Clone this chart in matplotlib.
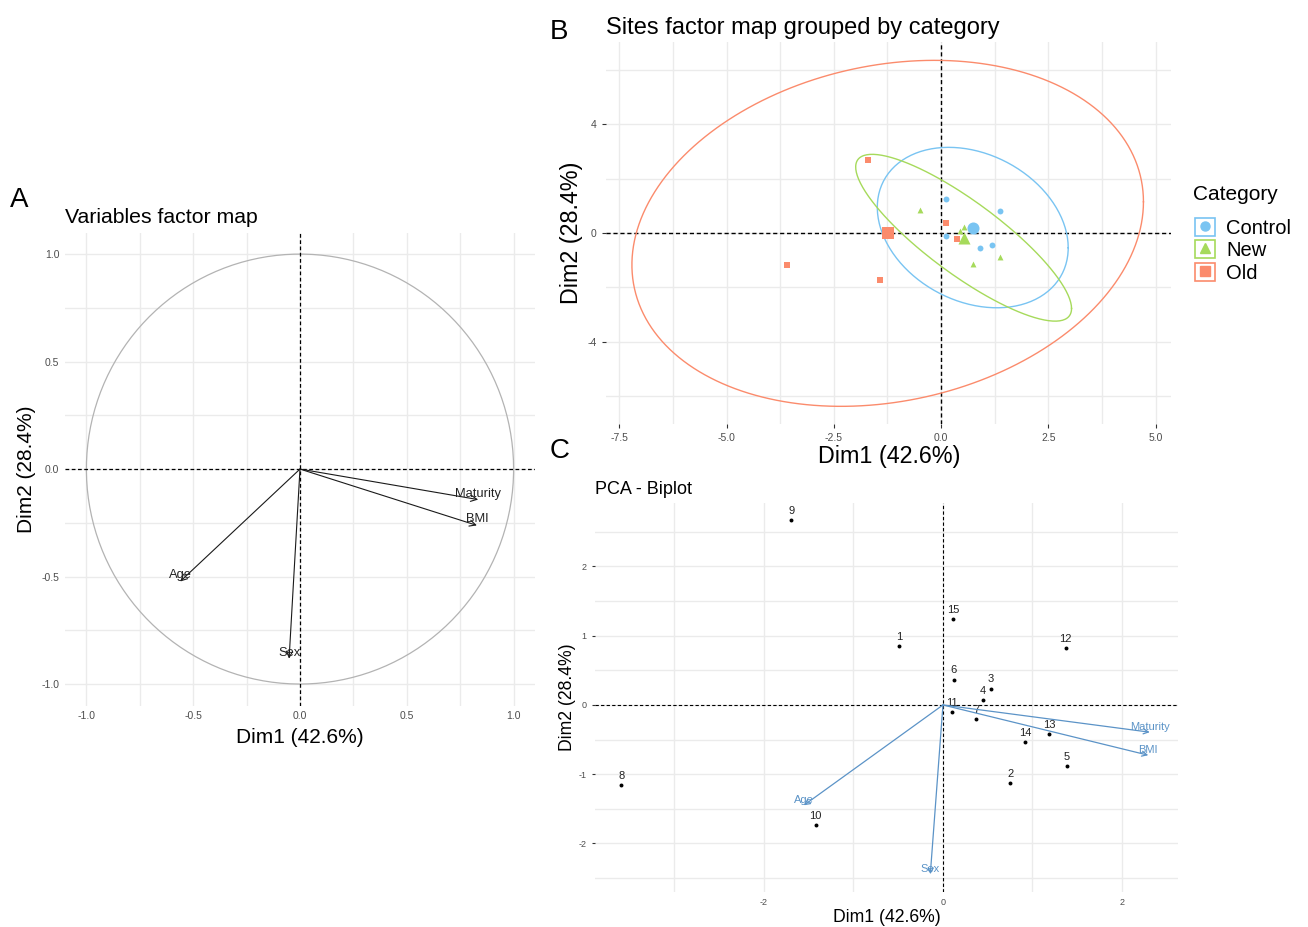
import numpy as np
import matplotlib
matplotlib.use("Agg")
import matplotlib.pyplot as plt
from matplotlib.lines import Line2D
from matplotlib.patches import Rectangle

plt.rcParams['font.family'] = ['Liberation Sans', 'DejaVu Sans']
plt.rcParams['axes.unicode_minus'] = False

# variable coordinates (correlation circle)
variables = ['Maturity', 'BMI', 'Age', 'Sex']
var_dim1 = [0.834, 0.828, -0.561, -0.051]
var_dim2 = [-0.142, -0.262, -0.523, -0.882]

# individual scores
site_ids = [1, 2, 3, 4, 5, 6, 7, 8, 9, 10, 11, 12, 13, 14, 15]
site_dim1 = [-0.487, 0.752, 0.538, 0.442, 1.385, 0.118, 0.374, -3.595,
             -1.695, -1.421, 0.105, 1.371, 1.189, 0.916, 0.114]
site_dim2 = [0.848, -1.133, 0.236, 0.067, -0.887, 0.366, -0.207, -1.157,
             2.665, -1.730, -0.101, 0.824, -0.424, -0.540, 1.239]
site_group = ['New', 'New', 'New', 'New', 'New', 'Old', 'Old', 'Old',
              'Old', 'Old', 'Control', 'Control', 'Control', 'Control', 'Control']

groups = ['Control', 'New', 'Old']
group_colors = ['#79C4F2', '#A6DA5B', '#FB8B6C']
group_markers = ['o', '^', 's']

biplot_scale = 2.77

GRID = '#EBEBEB'
TICK = '#4D4D4D'

fig = plt.figure(figsize=(13.08, 9.27), dpi=100)


def minimal(ax, xmaj, xmin, ymaj, ymin, ticksize):
    for s in ax.spines.values():
        s.set_visible(False)
    ax.set_xticks(xmaj)
    ax.set_xticks(xmin, minor=True)
    ax.set_yticks(ymaj)
    ax.set_yticks(ymin, minor=True)
    ax.grid(True, which='both', color=GRID, lw=1.0)
    ax.set_axisbelow(True)
    ax.tick_params(which='both', length=0, labelsize=ticksize, labelcolor=TICK, pad=4)


def ellipse(x, y, level=0.95, n=200):
    x = np.asarray(x)
    y = np.asarray(y)
    pts = np.column_stack([x, y])
    centre = pts.mean(axis=0)
    cov = np.cov(pts, rowvar=False)
    dfd = len(x) - 1
    fq = dfd / 2 * ((1 - level) ** (-2 / dfd) - 1)
    radius = np.sqrt(2 * fq)
    t = np.linspace(0, 2 * np.pi, n)
    circle = np.column_stack([np.cos(t), np.sin(t)])
    L = np.linalg.cholesky(cov)
    e = centre + radius * circle @ L.T
    return e[:, 0], e[:, 1]


# ---- A: variables factor map
axA = fig.add_axes([0.0497, 0.2389, 0.3593, 0.5102])
minimal(axA, [-1, -0.5, 0, 0.5, 1], [-0.75, -0.25, 0.25, 0.75],
        [-1, -0.5, 0, 0.5, 1], [-0.75, -0.25, 0.25, 0.75], 7.5)
axA.set_xticklabels(['-1.0', '-0.5', '0.0', '0.5', '1.0'])
axA.set_yticklabels(['-1.0', '-0.5', '0.0', '0.5', '1.0'])
axA.set_xlim(-1.1, 1.1)
axA.set_ylim(-1.1, 1.1)
t = np.linspace(0, 2 * np.pi, 300)
axA.plot(np.cos(t), np.sin(t), color='#B3B3B3', lw=0.9)
axA.axhline(0, color='black', ls='--', lw=0.9, dashes=(3, 2))
axA.axvline(0, color='black', ls='--', lw=0.9, dashes=(3, 2))
for name, vx, vy in zip(variables, var_dim1, var_dim2):
    axA.annotate('', xy=(vx, vy), xytext=(0, 0),
                 arrowprops=dict(arrowstyle='->', color='#1A1A1A', lw=0.8,
                                 shrinkA=0, shrinkB=0, mutation_scale=11))
    axA.text(vx, vy, name, ha='center', va='bottom', fontsize=9.3, color='#222222')
axA.set_title('Variables factor map', loc='left', fontsize=15.3, pad=7)
axA.set_xlabel('Dim1 (42.6%)', fontsize=15, labelpad=5)
axA.set_ylabel('Dim2 (28.4%)', fontsize=15, labelpad=4)

# ---- B: individuals grouped by category
axB = fig.add_axes([0.4636, 0.5429, 0.432, 0.4115])
minimal(axB, [-7.5, -5, -2.5, 0, 2.5, 5], [-6.25, -3.75, -1.25, 1.25, 3.75],
        [-4, 0, 4], [-6, -2, 2, 6], 7.5)
axB.set_xticklabels(['-7.5', '-5.0', '-2.5', '0.0', '2.5', '5.0'])
axB.tick_params(which='major', length=3, color='#333333')
axB.set_xlim(-7.8, 5.37)
axB.set_ylim(-7.0, 7.0)
axB.axhline(0, color='black', ls='--', lw=1.0, dashes=(3, 2), zorder=1)
axB.axvline(0, color='black', ls='--', lw=1.0, dashes=(3, 2), zorder=1)
handles = []
for g, c, m in zip(groups, group_colors, group_markers):
    gx = [x for x, k in zip(site_dim1, site_group) if k == g]
    gy = [y for y, k in zip(site_dim2, site_group) if k == g]
    ex, ey = ellipse(gx, gy)
    axB.plot(ex, ey, color=c, lw=1.0, zorder=2)
    axB.scatter(gx, gy, marker=m, s=18, color=c, lw=0, zorder=3)
    axB.scatter([np.mean(gx)], [np.mean(gy)], marker=m, s=75, color=c, lw=0, zorder=3)
    box = Rectangle((0, 0), 1, 1, facecolor='white', edgecolor=c, lw=1.2)
    mk = Line2D([], [], marker=m, color=c, ls='', markersize=6.5)
    handles.append((box, mk))
axB.set_title('Sites factor map grouped by category', loc='left', fontsize=17, pad=6)
axB.set_xlabel('Dim1 (42.6%)', fontsize=16.8, labelpad=1)
axB.set_ylabel('Dim2 (28.4%)', fontsize=16.8, labelpad=3)
fig.text(1193 / 1308, 1 - 195 / 927, 'Category', fontsize=15, va='center')
fig.legend(handles, groups, loc='upper left',
           bbox_to_anchor=(1195 / 1308, 1 - 218 / 927), frameon=False,
           fontsize=14.5, handlelength=1.0, handleheight=1.0,
           handletextpad=0.55, labelspacing=0.12, borderaxespad=0,
           borderpad=0)

# ---- C: biplot
axC = fig.add_axes([0.4547, 0.0378, 0.4462, 0.4199])
minimal(axC, [-2, 0, 2], [-3, -1, 1], [-2, -1, 0, 1, 2],
        [-2.5, -1.5, -0.5, 0.5, 1.5, 2.5], 6.5)
axC.tick_params(axis='y', which='major', length=2, color='#333333')
axC.set_xlim(-3.89, 2.63)
axC.set_ylim(-2.70, 2.92)
axC.axhline(0, color='black', ls='--', lw=0.8, dashes=(3, 2), zorder=1)
axC.axvline(0, color='black', ls='--', lw=0.8, dashes=(3, 2), zorder=1)
axC.scatter(site_dim1, site_dim2, s=8, color='black', lw=0, zorder=3)
for sid, x, y in zip(site_ids, site_dim1, site_dim2):
    axC.annotate(str(sid), (x, y), xytext=(0, 3), textcoords='offset points',
                 ha='center', va='bottom', fontsize=8, color='#222222')
for name, vx, vy in zip(variables, var_dim1, var_dim2):
    tx, ty = vx * biplot_scale, vy * biplot_scale
    axC.annotate('', xy=(tx, ty), xytext=(0, 0),
                 arrowprops=dict(arrowstyle='->', color='#5B93C7', lw=0.9,
                                 shrinkA=0, shrinkB=0, mutation_scale=9))
    axC.text(tx, ty, name, ha='center', va='bottom', fontsize=8, color='#5B93C7')
axC.set_title('PCA - Biplot', loc='left', fontsize=13, pad=6)
axC.set_xlabel('Dim1 (42.6%)', fontsize=12.7, labelpad=2)
axC.set_ylabel('Dim2 (28.4%)', fontsize=12.7, labelpad=2)

# panel letters
fig.text(10 / 1308, 1 - 200 / 927, 'A', fontsize=20, va='center')
fig.text(550 / 1308, 1 - 32 / 927, 'B', fontsize=20, va='center')
fig.text(550 / 1308, 1 - 451 / 927, 'C', fontsize=20, va='center')

fig.savefig('out.png', dpi=100, facecolor='white')
